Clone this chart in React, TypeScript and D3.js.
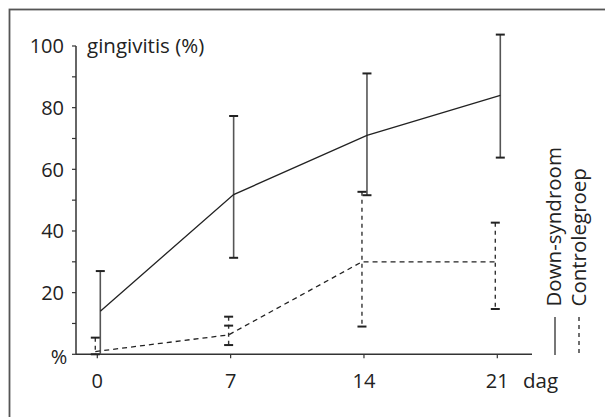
import React from 'react';
import * as d3 from 'd3';

// days on the x axis
const days = [0, 7, 14, 21];
const yTicks = [0, 20, 40, 60, 80, 100];
const yMinorTicks = [10, 30, 50, 70, 90];

// Down-syndroom (solid)
const downMean = [14, 51.8, 71, 84];
const downLow = [0, 31.3, 51.6, 63.8];
const downHigh = [27, 77.3, 91.1, 103.7];
const downLowCap = [false, true, true, true];

// Controlegroep (dashed)
const ctrlMean = [0.9, 6.3, 30, 30];
const ctrlLow = [0, 3, 9, 14.7];
const ctrlHigh = [5.4, 9.3, 52.7, 42.7];
// extra cap drawn at day 7 in the original
const ctrlExtraCap = [null, 12.2, null, null];

const W = 605;
const H = 417;
const FONT = "'Open Sans', 'Noto Sans', sans-serif";

export default function App() {
  const x = d3.scaleLinear().domain([0, 21]).range([97.3, 497.3]);
  const y = d3.scaleLinear().domain([0, 100]).range([354.3, 46]);
  const line = d3.line<number>()
    .x((d, i) => x(days[i]))
    .y(d => y(d));

  const downOff = 3;
  const ctrlOff = -2;
  const capW = 4.5;
  const dash = '5,4';
  const tickFs = 20;
  const textFs = 20.5;

  return (
    <svg width={W} height={H} style={{ position: 'absolute', left: 0, top: 0, background: '#fff' }} fontFamily={FONT}>
      {/* frame */}
      <rect x={9.5} y={9.5} width={W + 20} height={H + 20} fill="none" stroke="#555" strokeWidth={1.8} />

      {/* y axis */}
      <line x1={76} x2={76} y1={y(100)} y2={y(0)} stroke="#333" strokeWidth={1.5} />
      {yTicks.concat(yMinorTicks).map(t => (
        <line key={'yt' + t} x1={72} x2={76} y1={y(t)} y2={y(t)} stroke="#333" strokeWidth={1.2} />
      ))}
      {yTicks.filter(t => t > 0).map(t => (
        <text key={'yl' + t} x={64} y={y(t)} dy="0.36em" textAnchor="end" fontSize={tickFs} fill="#222">{t}</text>
      ))}
      <text x={59} y={y(0)} dy="0.5em" textAnchor="middle" fontSize={tickFs} fill="#222">%</text>
      <text x={87} y={y(100)} dy="0.36em" fontSize={textFs} fill="#222">gingivitis (%)</text>

      {/* x axis */}
      <line x1={76} x2={532} y1={y(0)} y2={y(0)} stroke="#333" strokeWidth={1.5} />
      {days.map(d => (
        <g key={'xt' + d}>
          <line x1={x(d)} x2={x(d)} y1={y(0)} y2={y(0) + 4} stroke="#333" strokeWidth={1.2} />
          <text x={x(d)} y={388} textAnchor="middle" fontSize={tickFs} fill="#222">{d}</text>
        </g>
      ))}
      <text x={523} y={388} fontSize={textFs} fill="#222">dag</text>

      {/* Down-syndroom error bars */}
      {days.map((d, i) => {
        const cx = x(d) + downOff;
        return (
          <g key={'de' + d}>
            <line x1={cx} x2={cx} y1={y(downHigh[i])} y2={y(downLow[i])} stroke="#555" strokeWidth={1.6} />
            <line x1={cx - capW} x2={cx + capW} y1={y(downHigh[i])} y2={y(downHigh[i])} stroke="#222" strokeWidth={2} />
            {downLowCap[i] && (
              <line x1={cx - capW} x2={cx + capW} y1={y(downLow[i])} y2={y(downLow[i])} stroke="#222" strokeWidth={2} />
            )}
          </g>
        );
      })}

      {/* Controlegroep error bars */}
      {days.map((d, i) => {
        const cx = x(d) + ctrlOff;
        const extra = ctrlExtraCap[i];
        return (
          <g key={'ce' + d}>
            <line x1={cx} x2={cx} y1={y(Math.max(ctrlHigh[i], extra ?? 0))} y2={y(ctrlLow[i])} stroke="#333" strokeWidth={1.4} strokeDasharray="4,4" />
            <line x1={cx - capW} x2={cx + capW} y1={y(ctrlHigh[i])} y2={y(ctrlHigh[i])} stroke="#222" strokeWidth={2} />
            <line x1={cx - capW} x2={cx + capW} y1={y(ctrlLow[i])} y2={y(ctrlLow[i])} stroke="#222" strokeWidth={2} />
            {extra != null && (
              <line x1={cx - capW} x2={cx + capW} y1={y(extra)} y2={y(extra)} stroke="#222" strokeWidth={2} />
            )}
          </g>
        );
      })}

      {/* series lines */}
      <path d={line(downMean) ?? ''} transform={`translate(${downOff},0)`} fill="none" stroke="#222" strokeWidth={1.3} />
      <path d={line(ctrlMean) ?? ''} transform={`translate(${ctrlOff},0)`} fill="none" stroke="#222" strokeWidth={1.3} strokeDasharray={dash} />

      {/* legend */}
      <line x1={555} x2={555} y1={317} y2={355} stroke="#555" strokeWidth={1.6} />
      <line x1={579} x2={579} y1={317} y2={355} stroke="#333" strokeWidth={1.4} strokeDasharray="4,4" />
      <text transform="translate(561,306.5) rotate(-90)" fontSize={textFs} fill="#222">Down-syndroom</text>
      <text transform="translate(586,306.5) rotate(-90)" fontSize={textFs} fill="#222">Controlegroep</text>
    </svg>
  );
}
